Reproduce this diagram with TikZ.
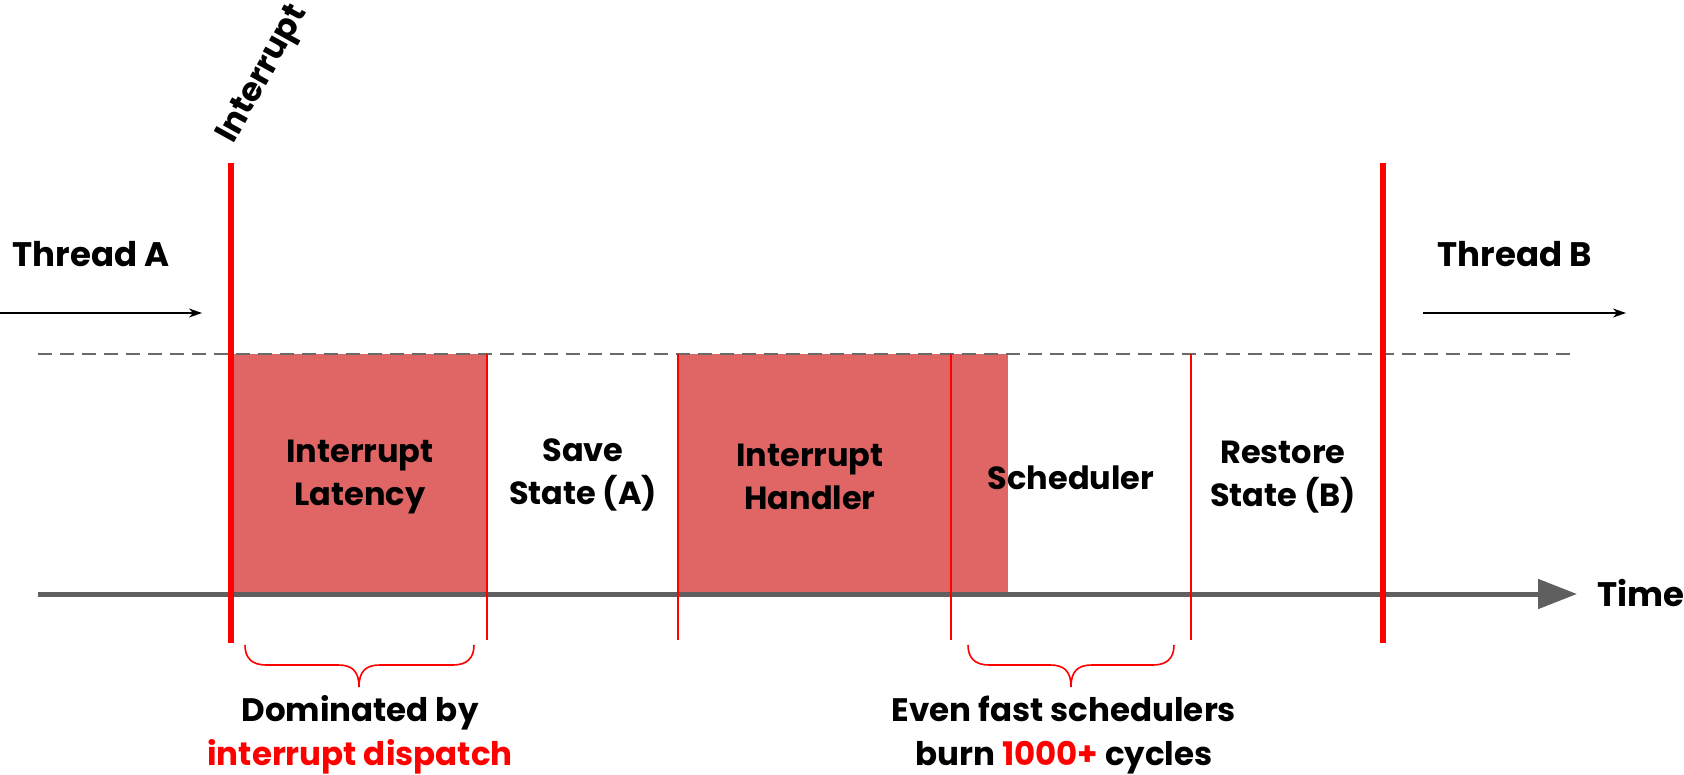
\documentclass[tikz,border=0pt]{standalone}
\usepackage{fontspec}
\setmainfont{Poppins}
\usetikzlibrary{arrows.meta}
\definecolor{boxred}{HTML}{E06666}
\definecolor{markred}{HTML}{FF0000}
\definecolor{axisgray}{HTML}{5F5F5F}
\definecolor{dashgray}{HTML}{6A6A6A}

\begin{document}
\begin{tikzpicture}[x=1pt,y=-1pt,
  lbl/.style={font=\bfseries\fontsize{32}{43}\selectfont, align=center, inner sep=0pt},
  biglbl/.style={font=\bfseries\fontsize{34}{43}\selectfont, inner sep=0pt},
  notelbl/.style={font=\bfseries\fontsize{32.5}{45}\selectfont, align=center, inner sep=0pt},
  thickmark/.style={markred, line width=6.5},
  thinmark/.style={markred, line width=1.5},
  flow/.style={black, line width=1.5, -{Stealth[length=13,width=9,inset=4]}},
  bracepath/.style={markred, line width=1.6}]
\useasboundingbox (0,0) rectangle (1684,775);

% shaded phases
\fill[boxred] (231,354) rectangle (487,594);
\fill[boxred] (678,354) rectangle (1008,594);

% top reference line
\coordinate (dashL) at (38,354);
\coordinate (dashR) at (1573,354);
\draw[dashgray, line width=1.8, dash pattern=on 14 off 8] (dashL) -- (dashR);

% time axis
\coordinate (axL) at (38,594);
\coordinate (axR) at (1577,594);
\draw[axisgray, line width=5, -{Triangle[length=39,width=29]}] (axL) -- (axR);
\node[biglbl] (time) at (1641,593) {Time};

% phase separators
\foreach \x/\n in {487/a,678/b,951/c,1191/d}{
  \coordinate (s\n t) at (\x,354);
  \coordinate (s\n b) at (\x,640);
  \draw[thinmark] (s\n t) -- (s\n b);
}

% interrupt and switch markers
\coordinate (intT) at (231,163); \coordinate (intB) at (231,643);
\coordinate (swT) at (1383,163); \coordinate (swB) at (1383,643);
\draw[thickmark] (intT) -- (intB);
\draw[thickmark] (swT) -- (swB);
\node[biglbl, rotate=61, font=\bfseries\fontsize{33}{43}\selectfont] (intlbl) at (264,75) {Interrupt};

% threads
\node[biglbl] (thA) at (91,254) {Thread A};
\node[biglbl] (thB) at (1515,254) {Thread B};
\coordinate (aS) at (0,313); \coordinate (aE) at (202,313);
\coordinate (bS) at (1423,313); \coordinate (bE) at (1626,313);
\draw[flow] (aS) -- (aE);
\draw[flow] (bS) -- (bE);

% phase labels
\node[lbl] (lat) at (360,477) {Interrupt\\Latency};
\node[lbl] (save) at (583,475) {Save\\State (A)};
\node[lbl] (hand) at (810,477) {Interrupt\\Handler};
\node[lbl] (sched) at (1071,478) {Scheduler};
\node[lbl] (rest) at (1283,477) {Restore\\State (B)};

% braces
\draw[bracepath] (245,645) .. controls (245,658) and (252,665) .. (266,665)
  -- (338,665) .. controls (352,665) and (359,671) .. (359,687)
  .. controls (359,671) and (366,665) .. (380,665)
  -- (453,665) .. controls (467,665) and (474,658) .. (474,645);
\draw[bracepath] (968,645) .. controls (968,658) and (975,665) .. (989,665)
  -- (1050,665) .. controls (1064,665) and (1071,671) .. (1071,687)
  .. controls (1071,671) and (1078,665) .. (1092,665)
  -- (1153,665) .. controls (1167,665) and (1174,658) .. (1174,645);

% notes
\node[notelbl, anchor=base] (n1a) at (360,721) {Dominated by};
\node[notelbl, anchor=base, text=markred] (n1b) at (360,765) {interrupt dispatch};
\node[notelbl, anchor=base] (n2a) at (1064,721) {Even fast schedulers};
\node[notelbl, anchor=base] (n2b) at (1064,765) {burn \textcolor{markred}{1000+} cycles};
\end{tikzpicture}
\end{document}
